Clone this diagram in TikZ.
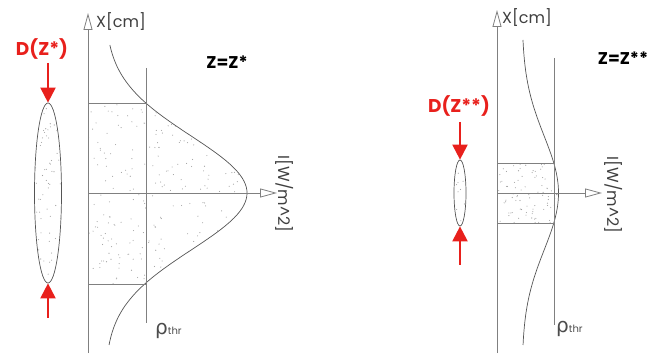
\documentclass[tikz,border=0pt]{standalone}
\usepackage{fontspec}
\setmainfont{Poppins}
\newfontfamily\grk{DejaVu Sans}
\usetikzlibrary{arrows.meta,shapes.geometric}
\definecolor{axisgray}{HTML}{808080}
\definecolor{curvegray}{HTML}{555555}
\definecolor{myred}{HTML}{E8201C}
\tikzset{
  axis/.style={draw=axisgray, line width=0.9pt, -{Triangle[open, length=17pt, width=9pt, line width=0.8pt]}},
  curve/.style={draw=curvegray, line width=0.7pt},
  thin line/.style={draw=axisgray, line width=0.9pt},
  redarrow/.style={draw=myred, line width=2pt, -{Triangle[length=15pt, width=15pt]}},
  axlabel/.style={font=\fontsize{16}{16}\selectfont, text=black!75, inner sep=0pt},
  redlabel/.style={font=\bfseries\fontsize{18.5}{18.5}\selectfont, text=myred, inner sep=0pt},
  zlabel/.style={font=\bfseries\fontsize{17}{17}\selectfont, text=black, inner sep=0pt},
  rholabel/.style={inner sep=0pt, text=black!70},
  spot/.style={ellipse, draw=curvegray, line width=0.7pt, inner sep=0pt},
  speck/.style={fill=gray!75},
}
\newcommand{\stipple}[5]{% xmin xmax ymin ymax count
  \foreach \k in {1,...,#5}{
    \pgfmathsetmacro{\sx}{#1+(#2-#1)*rnd}
    \pgfmathsetmacro{\sy}{#3+(#4-#3)*rnd}
    \fill[speck] (\sx,\sy) circle (0.55);
  }
}
\begin{document}
\begin{tikzpicture}[x=1pt,y=-1pt]
\useasboundingbox (0,0) rectangle (656,355);
\pgfmathsetseed{7}
% ================= LEFT PANEL =================
\coordinate (Lbot) at (88,353);
\coordinate (Ltop) at (88,13);
\coordinate (Lo) at (88,193);
\coordinate (Lright) at (277,193);
\coordinate (Ltt) at (146,68);
\coordinate (Ltb) at (146,323);
\coordinate (Lh1) at (146,103);
\coordinate (Lh1a) at (88,103);
\coordinate (Lh2) at (146,284);
\coordinate (Lh2a) at (88,284);
\begin{scope}
  \clip (88,103) -- plot[domain=103:284, samples=60, variable=\t] ({105+142*exp(-(((\t-193)/57)^2)/2)},\t) -- (88,284) -- cycle;
  \stipple{88}{250}{103}{284}{260}
\end{scope}
\draw[curve] plot[domain=45:345, samples=100, variable=\t] ({105+142*exp(-(((\t-193)/57)^2)/2)},\t);
\draw[thin line] (Lh1a) -- (Lh1);
\draw[thin line] (Lh2a) -- (Lh2);
\draw[thin line] (Ltt) -- (Ltb);
\draw[axis] (Lbot) -- (Ltop);
\draw[axis] (Lo) -- (Lright);
% ellipse
\begin{scope}
  \clip (48,193) ellipse [x radius=13.5, y radius=90];
  \stipple{34}{62}{103}{284}{70}
\end{scope}
\node[spot, minimum width=27pt, minimum height=180pt] (Lell) at (48,193) {};
\coordinate (Lat) at (48,63);
\coordinate (Lbt) at (48,318);
\draw[redarrow] (Lat) -- (Lell.north);
\draw[redarrow] (Lbt) -- (Lell.south);
\node[redlabel] (Ldz) at (42,49) {D(Z*)};
\node[axlabel, anchor=west] (Lx) at (96,22) {X[cm]};
\node[zlabel] (Lz) at (227,62) {Z=Z*};
\node[axlabel, rotate=-90] (Li) at (285,194) {I[W/m\textasciicircum 2]};
\node[rholabel, anchor=west] (Lrho) at (155,331) {{\grk\fontsize{20}{20}\selectfont ρ}{\fontsize{10}{10}\selectfont thr}};
% ================= RIGHT PANEL =================
\coordinate (Rbot) at (497,353);
\coordinate (Rtop) at (497,10);
\coordinate (Ro) at (497,193);
\coordinate (Rright) at (602,193);
\coordinate (Rtt) at (554,58);
\coordinate (Rtb) at (554,325);
\coordinate (Rh1) at (554,163);
\coordinate (Rh1a) at (497,163);
\coordinate (Rh2) at (554,223);
\coordinate (Rh2a) at (497,223);
\begin{scope}
  \clip (497,163) -- plot[domain=163:223, samples=30, variable=\t] ({522+36.5*exp(-(((\t-193)/57)^2)/2)},\t) -- (497,223) -- cycle;
  \stipple{497}{560}{163}{223}{90}
\end{scope}
\draw[curve] plot[domain=40:345, samples=100, variable=\t] ({522+36.5*exp(-(((\t-193)/57)^2)/2)},\t);
\draw[thin line] (Rh1a) -- (Rh1);
\draw[thin line] (Rh2a) -- (Rh2);
\draw[thin line] (Rtt) -- (Rtb);
\draw[axis] (Rbot) -- (Rtop);
\draw[axis] (Ro) -- (Rright);
\begin{scope}
  \clip (460,193) ellipse [x radius=6, y radius=33];
  \stipple{454}{466}{160}{226}{10}
\end{scope}
\node[spot, minimum width=12pt, minimum height=66pt] (Rell) at (460,193) {};
\coordinate (Rat) at (460,122);
\coordinate (Rbt) at (460,265);
\draw[redarrow] (Rat) -- (Rell.north);
\draw[redarrow] (Rbt) -- (Rell.south);
\node[redlabel] (Rdz) at (459,106) {D(Z**)};
\node[axlabel, anchor=west] (Rx) at (502,18) {X[cm]};
\node[zlabel] (Rz) at (623,58) {Z=Z**};
\node[axlabel, rotate=-90] (Ri) at (614,195) {I[W/m\textasciicircum 2]};
\node[rholabel, anchor=west] (Rrho) at (556,329) {{\grk\fontsize{20}{20}\selectfont ρ}{\fontsize{10}{10}\selectfont thr}};
\end{tikzpicture}
\end{document}
